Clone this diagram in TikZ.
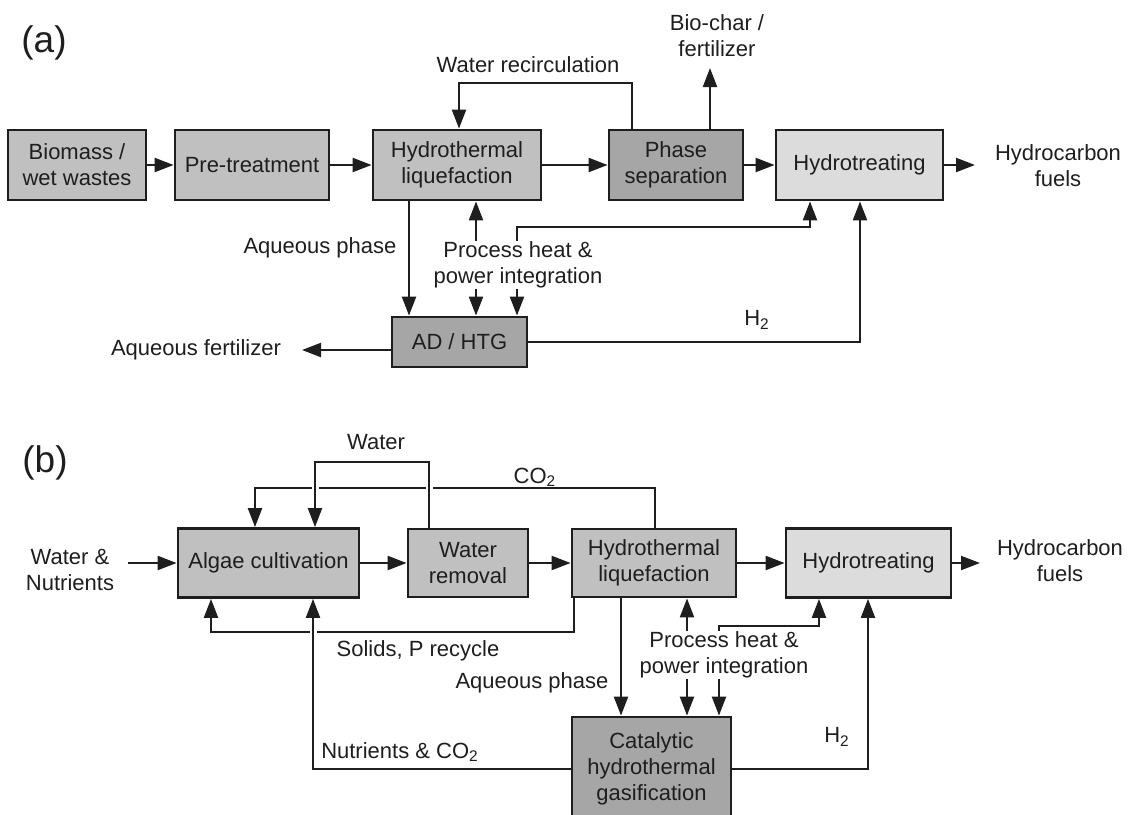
\documentclass[tikz,border=0pt]{standalone}
\usepackage{fontspec}
\setmainfont{Liberation Sans}
\usepackage{tikz}
\usetikzlibrary{arrows.meta,calc}

\definecolor{boxmid}{RGB}{192,192,192}
\definecolor{boxdark}{RGB}{166,166,166}
\definecolor{boxlight}{RGB}{220,220,220}
\definecolor{ink}{RGB}{30,30,30}

\tikzset{
  box/.style={draw=ink,line width=1.4pt,fill=boxmid,text=ink,align=center,inner sep=2pt,minimum height=35pt},
  arr/.style={draw=ink,line width=1.1pt,-{Triangle[length=9.5pt,width=7pt]}},
  lbl/.style={align=center,text=ink,inner sep=0pt},
  bridge/.style={preaction={draw=white,line width=3.5pt,-}}
}

\begin{document}
\begin{tikzpicture}[x=0.5pt,y=-0.5pt,font=\fontsize{11}{13}\selectfont]
          \useasboundingbox (0,0) rectangle (1132,815);
          \clip (0,0) rectangle (1132,815);

          \node[lbl,font=\fontsize{18.5}{22}\selectfont] (tagA) at (44,43) {(a)};
          \node[box,minimum width=69pt] (bioA) at (77,165) {Biomass /\\wet wastes};
          \node[box,minimum width=77pt] (preA) at (252,165) {Pre-treatment};
          \node[box,minimum width=84pt] (htlA) at (457,165) {Hydrothermal\\liquefaction};
          \node[box,fill=boxdark,minimum width=67pt] (phsA) at (676,165) {Phase\\separation};
          \node[box,fill=boxlight,minimum width=83.5pt] (hydA) at (859.5,165) {Hydrotreating};
          \node[box,fill=boxdark,minimum width=67.5pt,minimum height=25pt] (adA) at (459.5,342) {AD / HTG};
          \node[lbl] (fuelA) at (1058,166) {Hydrocarbon\\fuels};
          \node[lbl] (recA) at (528,65) {Water recirculation};
          \node[lbl] (charA) at (717,36) {Bio-char /\\fertilizer};
          \node[lbl] (aqA) at (320,248) {Aqueous phase};
          \node[lbl] (heatA) at (518,265) {Process heat \&\\power integration};
          \node[lbl] (fertA) at (196,350) {Aqueous fertilizer};
          \node[lbl] (h2A) at (757,320) {H\textsubscript{2}};

          \coordinate (fuelAin) at (975,165);
          \coordinate (charAtop) at (710,68);
          \coordinate (fertAend) at (302,350);
          \coordinate (cRecR) at (632,83);
          \coordinate (cRecL) at (459,83);
          \coordinate (cAqA) at (409,0);
          \coordinate (cHtA) at (476,0);
          \coordinate (cPwA) at (517,227);
          \coordinate (cHyA) at (810,227);
          \coordinate (cH2A) at (860,0);

          \draw[arr] (bioA) -- (preA);
          \draw[arr] (preA) -- (htlA);
          \draw[arr] (htlA) -- (phsA);
          \draw[arr] (phsA) -- (hydA);
          \draw[arr] (hydA) -- (fuelAin);
          \draw[arr] (phsA.north -| cRecR) -- (cRecR) -- (cRecL) -- (htlA.north -| cRecL);
          \draw[arr] (phsA.north -| charAtop) -- (charAtop);
          \draw[arr] (htlA.south -| cAqA) -- (adA.north -| cAqA);
          \draw[arr] (heatA.north -| cHtA) -- (htlA.south -| cHtA);
          \draw[arr] (heatA.north -| cPwA) -- (cPwA) -- (cHyA) -- (hydA.south -| cHyA);
          \draw[arr] (heatA.south -| cHtA) -- (adA.north -| cHtA);
          \draw[arr] (heatA.south -| cPwA) -- (adA.north -| cPwA);
          \draw[arr] ([yshift=-4pt]adA.west) -- (fertAend);
          \draw[arr] (adA.east) -- (adA.east -| cH2A) -- (hydA.south -| cH2A);

          \node[lbl,font=\fontsize{18.5}{22}\selectfont] (tagB) at (45,463) {(b)};
          \node[box,minimum width=90.5pt,minimum height=34.5pt] (algB) at (268.5,563) {Algae cultivation};
          \node[box,minimum width=60pt,minimum height=34pt] (wrmB) at (468,563) {Water\\removal};
          \node[box,minimum width=82pt,minimum height=34pt] (htlB) at (654,563) {Hydrothermal\\liquefaction};
          \node[box,fill=boxlight,minimum width=82.5pt,minimum height=34.5pt] (hydB) at (868.5,563) {Hydrotreating};
          \node[box,fill=boxdark,minimum width=79.5pt,minimum height=52pt] (chgB) at (651.5,769) {Catalytic\\hydrothermal\\gasification};
          \node[lbl] (inB) at (70,570) {Water \&\\Nutrients};
          \node[lbl] (fuelB) at (1060,561) {Hydrocarbon\\fuels};
          \node[lbl] (watB) at (376,442) {Water};
          \node[lbl] (co2B) at (535,477) {CO\textsubscript{2}};
          \node[lbl] (solB) at (418,651) {Solids, P recycle};
          \node[lbl] (aqB) at (532,683) {Aqueous phase};
          \node[lbl] (heatB) at (724,655) {Process heat \&\\power integration};
          \node[lbl] (nutB) at (400,752) {Nutrients \& CO\textsubscript{2}};
          \node[lbl] (h2B) at (837,737) {H\textsubscript{2}};

          \coordinate (inBstart) at (128,563);
          \coordinate (fuelBin) at (980,563);
          \coordinate (cWatR) at (429,462);
          \coordinate (cWatL) at (315,462);
          \coordinate (cCoR) at (655,488);
          \coordinate (cCoL) at (255,488);
          \coordinate (cSolR) at (574,632);
          \coordinate (cSolL) at (211,632);
          \coordinate (cAqB) at (621,0);
          \coordinate (cHtB) at (687,0);
          \coordinate (cPwB) at (719,626);
          \coordinate (cHyB) at (819,626);
          \coordinate (cNutL) at (313,0);
          \coordinate (cH2B) at (868,0);

          \draw[arr] (inBstart) -- (algB);
          \draw[arr] (algB) -- (wrmB);
          \draw[arr] (wrmB) -- (htlB);
          \draw[arr] (htlB) -- (hydB);
          \draw[arr] (hydB) -- (fuelBin);
          \draw[arr] (htlB.north -| cCoR) -- (cCoR) -- (cCoL) -- (algB.north -| cCoL);
          \draw[arr,bridge] (wrmB.north -| cWatR) -- (cWatR) -- (cWatL) -- (algB.north -| cWatL);
          \draw[arr] (htlB.south -| cSolR) -- (cSolR) -- (cSolL) -- (algB.south -| cSolL);
          \draw[arr,bridge] (chgB.west) -- (chgB.west -| cNutL) -- (algB.south -| cNutL);
          \draw[arr] (htlB.south -| cAqB) -- (chgB.north -| cAqB);
          \draw[arr] (heatB.north -| cHtB) -- (htlB.south -| cHtB);
          \draw[arr] (heatB.north -| cPwB) -- (cPwB) -- (cHyB) -- (hydB.south -| cHyB);
          \draw[arr] (heatB.south -| cHtB) -- (chgB.north -| cHtB);
          \draw[arr] (heatB.south -| cPwB) -- (chgB.north -| cPwB);
          \draw[arr] (chgB.east) -- (chgB.east -| cH2B) -- (hydB.south -| cH2B);
        \end{tikzpicture}
\end{document}
